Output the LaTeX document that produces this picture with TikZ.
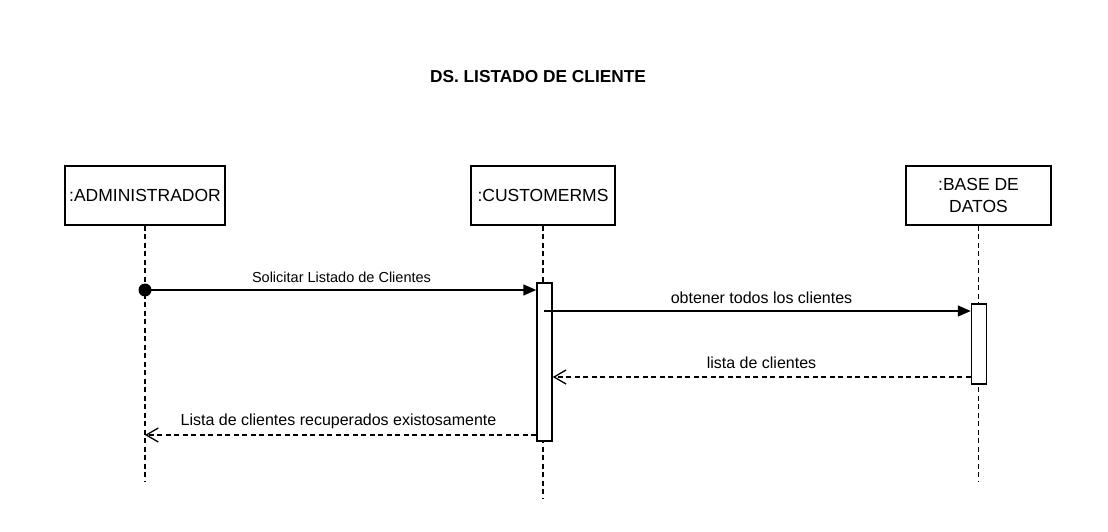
\documentclass[tikz,border=0pt]{standalone}
\usepackage{fontspec}
\setmainfont{Liberation Sans}
\usetikzlibrary{arrows.meta}
\tikzset{
  objbox/.style={draw, line width=1.5pt, minimum width=#1, minimum height=59pt, inner sep=0pt, align=center, font=\fontsize{17.5}{22}\selectfont},
  actbox/.style={draw, line width=1.5pt, fill=white, minimum width=15pt, minimum height=#1, inner sep=0pt},
  lifeline/.style={line width=1.5pt, dash pattern=on 5pt off 3.5pt},
  syncmsg/.style={line width=1.5pt, -{Triangle[length=13pt,width=11pt]}},
  retmsg/.style={line width=1.3pt, dash pattern=on 5pt off 3.5pt, -{Straight Barb[length=12pt,width=14pt]}},
  msglabel/.style={inner sep=0pt, font=\fontsize{16}{19}\selectfont},
}
\begin{document}
\begin{tikzpicture}[x=1pt, y=-1pt]
\useasboundingbox (0,0) rectangle (1108,532);
\node[font=\bfseries\fontsize{17.3}{20}\selectfont, inner sep=0pt] (title) at (538,77) {DS. LISTADO DE CLIENTE};

\node[objbox=160pt] (adm) at (145,195.5) {:ADMINISTRADOR};
\node[objbox=144pt] (cms) at (543,195.5) {:CUSTOMERMS};
\node[objbox=145pt] (bd) at (978.5,195.5) {:BASE DE\\DATOS};

\coordinate (admend) at (145,482);
\coordinate (cmsend) at (543,498);
\coordinate (bdend) at (978.5,482);
\draw[lifeline] (adm.south) -- (admend);
\draw[lifeline] (cms.south) -- (cmsend);
\draw[lifeline] (bd.south) -- (bdend);

\node[actbox=158pt] (cmsact) at (544.5,362) {};
\node[actbox=80pt] (bdact) at (979,344) {};

% message 1
\coordinate (m1s) at (145,290);
\coordinate (m1e) at (cmsact.west |- m1s);
\fill (m1s) circle (6.5pt);
\draw[syncmsg] (m1s) -- (m1e);
\node[msglabel, font=\fontsize{14.5}{17}\selectfont] (l1) at (341.5,277) {Solicitar Listado de Clientes};

% message 2
\coordinate (m2s) at (544,311);
\coordinate (m2e) at (bdact.west |- m2s);
\draw[syncmsg] (m2s) -- (m2e);
\node[msglabel] (l2) at (761.5,298) {obtener todos los clientes};

% message 3
\coordinate (m3s) at (bdact.west |- 0,377);
\coordinate (m3e) at (cmsact.east |- 0,377);
\draw[retmsg] (m3s) -- (m3e);
\node[msglabel] (l3) at (761.5,363) {lista de clientes};

% message 4
\coordinate (m4s) at (cmsact.west |- 0,435);
\coordinate (m4e) at (145,435);
\draw[retmsg] (m4s) -- (m4e);
\node[msglabel] (l4) at (338.5,421) {Lista de clientes recuperados existosamente};
\end{tikzpicture}
\end{document}
